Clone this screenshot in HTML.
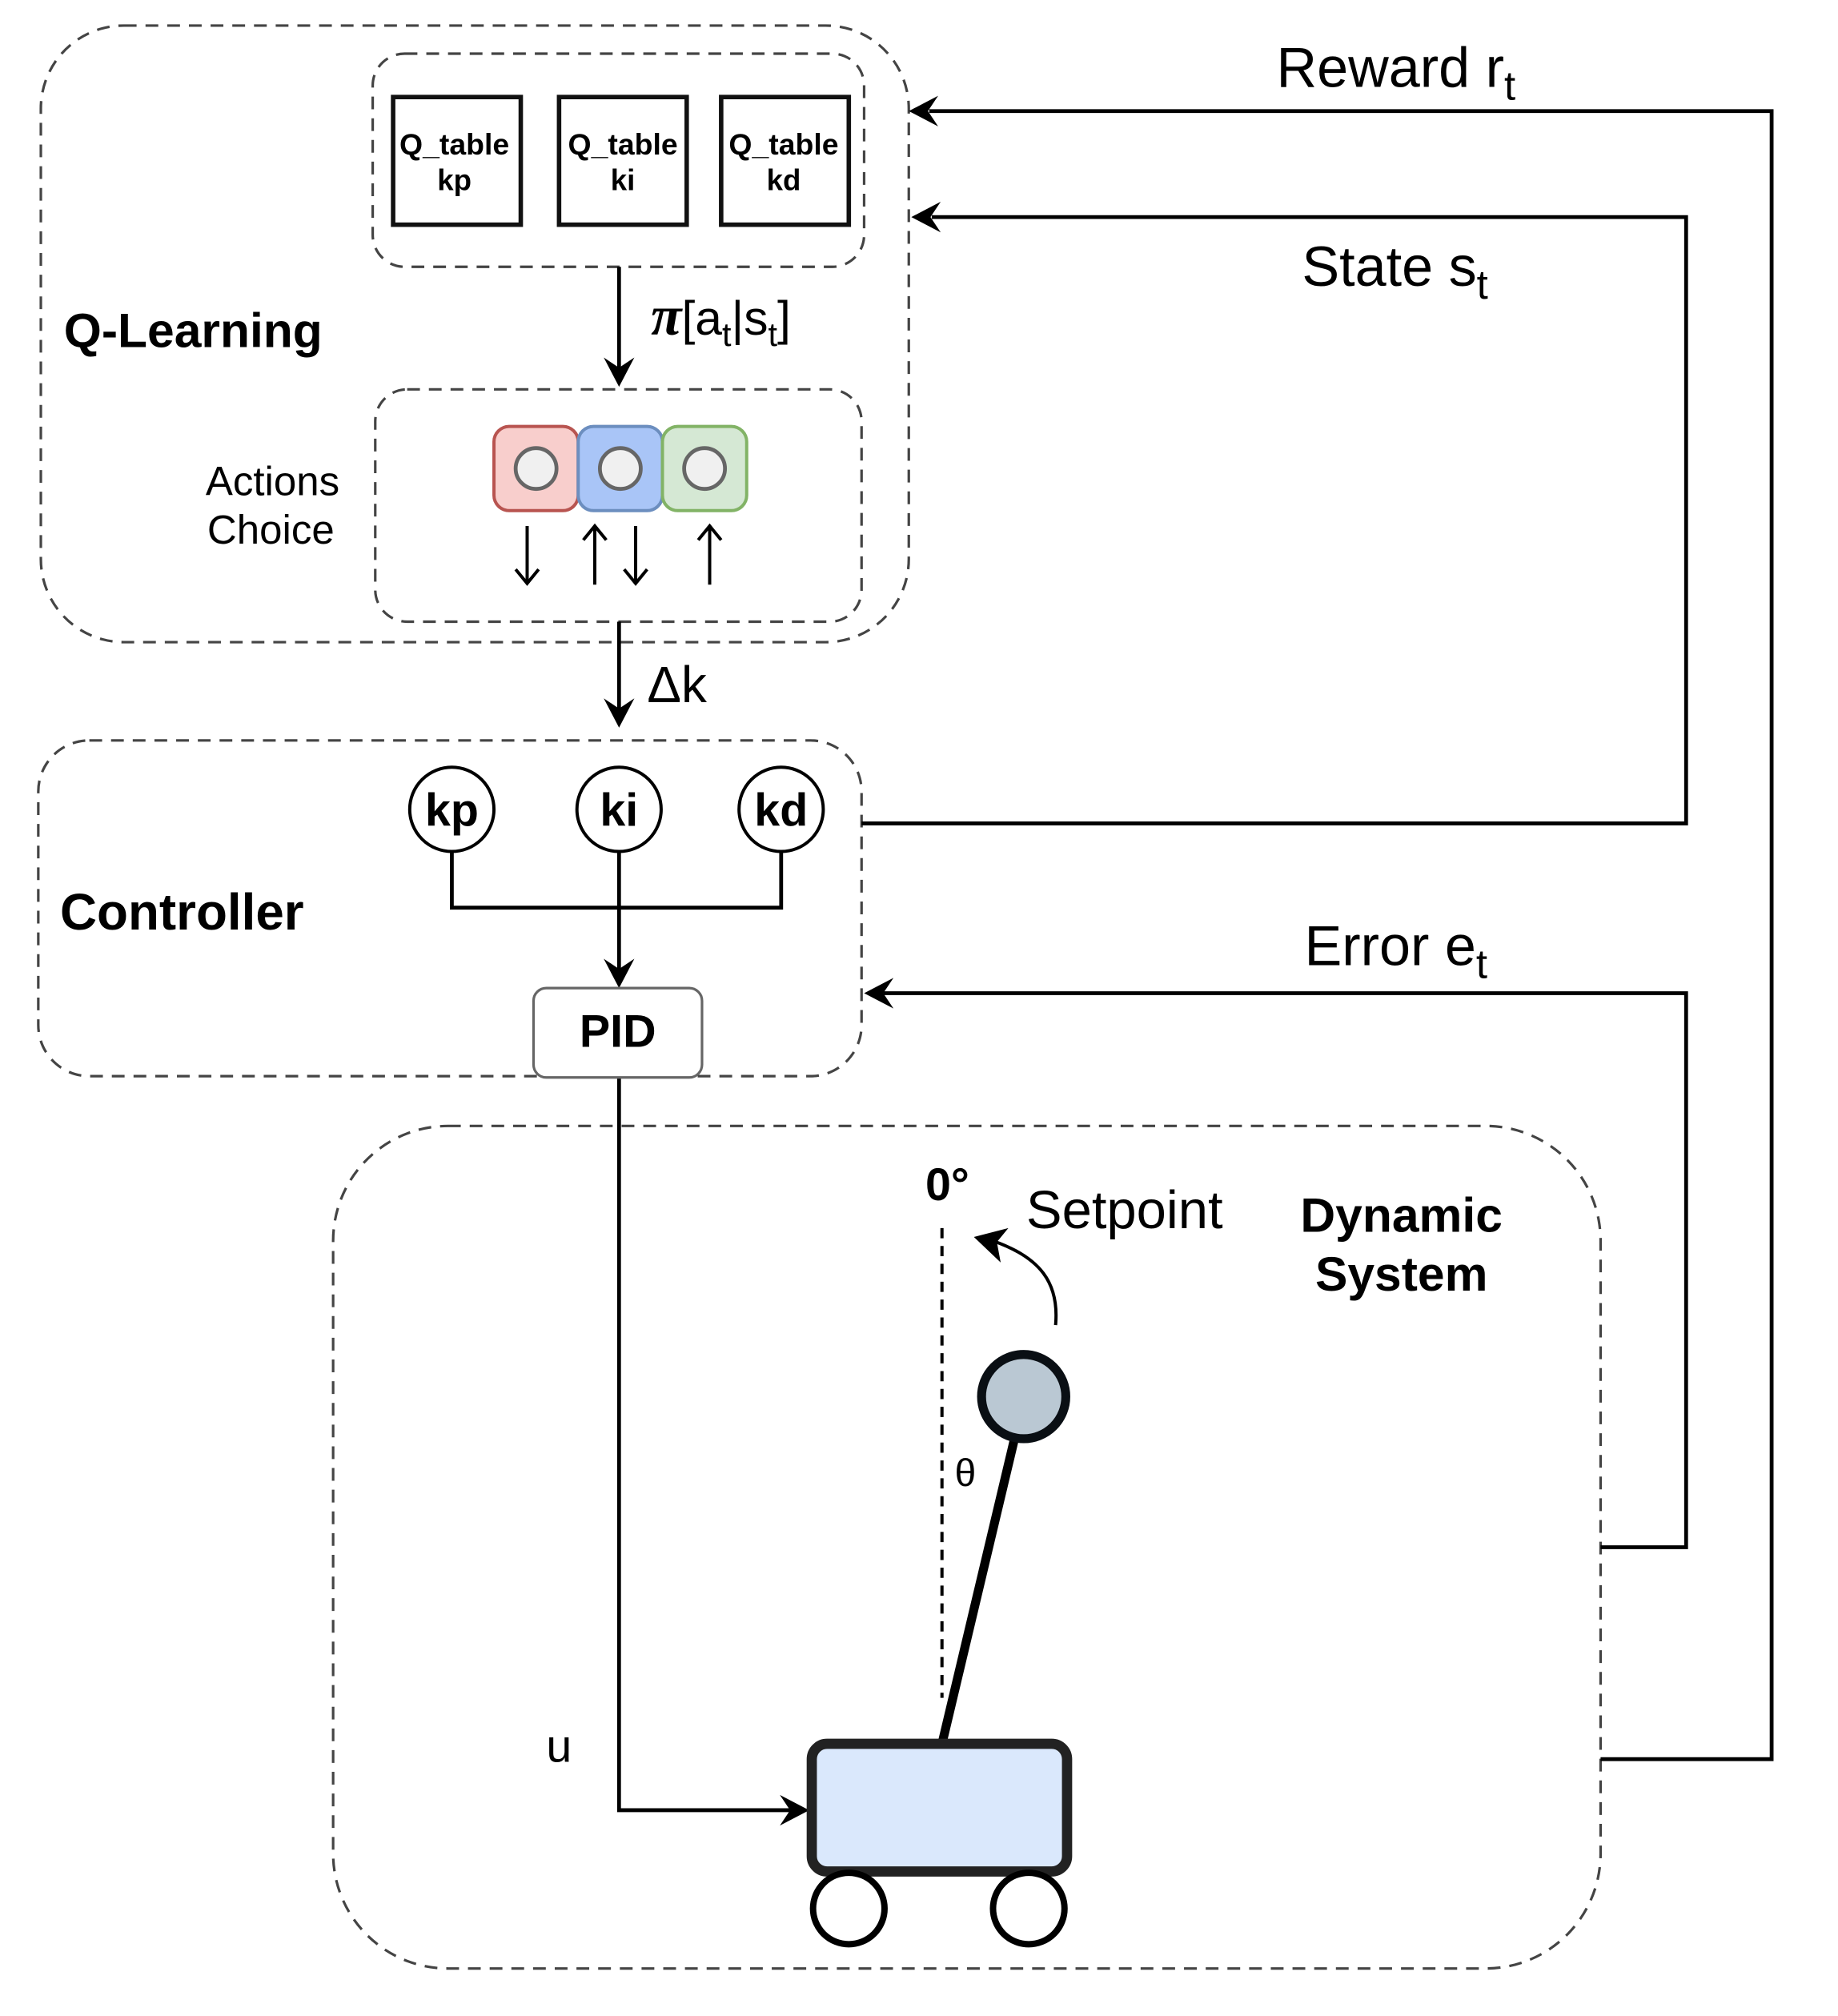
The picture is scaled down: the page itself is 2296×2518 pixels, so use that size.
<!DOCTYPE html>
<html><head><meta charset="utf-8"><style>html,body{margin:0;padding:0;background:#fff}svg{display:block}</style></head>
<body>
<svg width="2296" height="2518" viewBox="0 0 1440 1579.2" xmlns="http://www.w3.org/2000/svg" font-family="Liberation Sans, sans-serif">
<g fill="none" stroke="#444" stroke-width="2" stroke-dasharray="10,7">
<rect x="32" y="20" width="680" height="483" rx="65"/>
<rect x="292" y="42" width="385" height="167" rx="25"/>
<rect x="294" y="305" width="381" height="182" rx="25"/>
<rect x="30" y="580" width="645" height="263" rx="40"/>
<rect x="261" y="882" width="993" height="660" rx="90"/>
</g>
<g fill="#fff" stroke="#111" stroke-width="3.5">
<rect x="308" y="76" width="100" height="100"/>
<rect x="438" y="76" width="100" height="100"/>
<rect x="565" y="76" width="100" height="100"/>
</g>
<g font-size="23" font-weight="bold" text-anchor="middle" fill="#000">
<text x="356" y="121" textLength="86" lengthAdjust="spacingAndGlyphs">Q_table</text><text x="356" y="149">kp</text>
<text x="488" y="121" textLength="86" lengthAdjust="spacingAndGlyphs">Q_table</text><text x="488" y="149">ki</text>
<text x="614" y="121" textLength="86" lengthAdjust="spacingAndGlyphs">Q_table</text><text x="614" y="149">kd</text>
</g>
<text x="50" y="272" font-size="38" font-weight="bold">Q-Learning</text>
<g font-size="32" text-anchor="end"><text x="266" y="388">Actions</text><text x="262" y="426">Choice</text></g>
<rect x="387" y="334" width="66" height="66" rx="12" fill="#f8cecc" stroke="#b85450" stroke-width="2.5"/>
<rect x="453" y="334" width="66" height="66" rx="12" fill="#a9c5f7" stroke="#6c8ebf" stroke-width="2.5"/>
<rect x="519" y="334" width="66" height="66" rx="12" fill="#d5e8d4" stroke="#82b366" stroke-width="2.5"/>
<g fill="#f0f0f0" stroke="#666" stroke-width="3"><circle cx="420" cy="367" r="16"/><circle cx="486" cy="367" r="16"/><circle cx="552" cy="367" r="16"/></g>
<g stroke="#000" stroke-width="2.5" fill="none">
<path d="M413 412V456M404 446L413 457L422 446"/>
<path d="M466 458V413M457 423L466 412L475 423"/>
<path d="M498 412V456M489 446L498 457L507 446"/>
<path d="M556 458V413M547 423L556 412L565 423"/>
</g>
<g stroke="#000" stroke-width="3" fill="none">
<path d="M485 209V290"/><path d="M485 487V556"/>
<path d="M354 667V711H612V667M485 667V760"/>
<path d="M485 844V1418H620"/>
<path d="M1254 1378H1388V87H728"/>
<path d="M675 645H1321V170H730"/>
<path d="M1254 1212H1321V778H692"/>
</g>
<g fill="#000">
<path d="M485 303L473 280L485 288L497 280Z"/>
<path d="M485 570L473 547L485 555L497 547Z"/>
<path d="M485 774L473 751L485 759L497 751Z"/>
<path d="M634 1418L611 1406L619 1418L611 1430Z"/>
<path d="M712 87L735 75L727 87L735 99Z"/>
<path d="M714 170L737 158L729 170L737 182Z"/>
<path d="M677 778L700 766L692 778L700 790Z"/>
</g>
<text x="510" y="262" font-size="38"><tspan font-family="Liberation Serif, serif" font-weight="bold" font-style="italic" font-size="44">π</tspan>[a<tspan font-size="26" dy="9">t</tspan><tspan dy="-9">|s</tspan><tspan font-size="26" dy="9">t</tspan><tspan dy="-9">]</tspan></text>
<text x="507" y="550" font-size="40">Δk</text>
<g fill="#fff" stroke="#000" stroke-width="2.5"><circle cx="354" cy="634" r="33"/><circle cx="485" cy="634" r="33"/><circle cx="612" cy="634" r="33"/></g>
<g font-size="36" font-weight="bold" text-anchor="middle"><text x="354" y="647">kp</text><text x="485" y="647">ki</text><text x="612" y="647">kd</text></g>
<text x="47" y="728" font-size="40" font-weight="bold">Controller</text>
<rect x="418" y="774" width="132" height="70" rx="10" fill="#fff" stroke="#666" stroke-width="2"/>
<text x="484" y="820" font-size="36" font-weight="bold" text-anchor="middle">PID</text>
<text x="428" y="1380" font-size="36">u</text>
<path d="M738 962V1330" stroke="#000" stroke-width="2.5" stroke-dasharray="8,6"/>
<path d="M738 1366L796 1122" stroke="#000" stroke-width="7"/>
<circle cx="802" cy="1094" r="33" fill="#bac8d3" stroke="#0a0f14" stroke-width="7"/>
<rect x="636" y="1366" width="200" height="100" rx="12" fill="#dae8fc" stroke="#222" stroke-width="8"/>
<g fill="#fff" stroke="#000" stroke-width="5"><circle cx="665" cy="1495" r="28"/><circle cx="806" cy="1495" r="28"/></g>
<path d="M827 1038C830 1005 815 985 778 972" stroke="#000" stroke-width="2.5" fill="none"/>
<path d="M763 969L790 962L781 973L784 989Z" fill="#000"/>
<text x="725" y="940" font-size="36" font-weight="bold">0°</text>
<text x="748" y="1164" font-size="30">θ</text>
<text x="804" y="962" font-size="42">Setpoint</text>
<g font-size="38" font-weight="bold" text-anchor="middle"><text x="1098" y="965">Dynamic</text><text x="1098" y="1011">System</text></g>
<text x="1000" y="68" font-size="44">Reward r<tspan font-size="32" dy="10">t</tspan></text>
<text x="1020" y="224" font-size="44">State s<tspan font-size="32" dy="10">t</tspan></text>
<text x="1022" y="756" font-size="44">Error e<tspan font-size="32" dy="10">t</tspan></text>
</svg>
</body></html>
